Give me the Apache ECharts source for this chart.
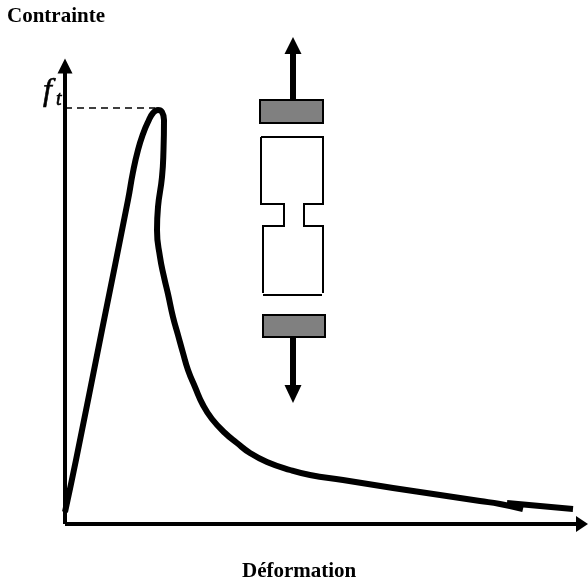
<!DOCTYPE html>
<html><head><meta charset="utf-8">
<style>html,body{margin:0;padding:0;background:#fff}#c{width:588px;height:583px}</style>
<script src="https://cdn.jsdelivr.net/npm/echarts@6/dist/echarts.min.js"></script>
</head><body><div id="c"></div>
<script>
// All values are in chart units: strain on x (0-517), stress on y (0-458)
const curveBlack = [[0,12],[11,64],[37,194],[63,324],[68,352],[73,374],[78,390],[83,402],[88,411],[93,414],[97,412],[99,404],[98.5,374],[97,347],[93,317],[92,294],[95,267],[99,247],[103,230],[108,207],[113,189],[118,171],[123,154],[130,137],[138,119],[147,105],[160,91],[172,81],[185,71],[202,62],[225,54],[245,49],[278,44],[328,36],[375,29],[415,23],[435,20],[458,15]];
const curveTail = [[442,21],[475,18],[508,15]];
const ftDash = [[0,416],[90,416]];
const specimenTop = [[196,387],[258,387],[258,320],[239,320],[239,298],[258,298],[258,231]];
const specimenLeft = [[196,387],[196,320],[219,320],[219,298],[198,298],[198,231]];
const specimenBottom = [[198,229],[257,229]];
const grips = [[195,424,258,401],[198,209,260,187]];
const arrowShaftUp = [[228,424],[228,472]];
const arrowShaftDown = [[228,187],[228,136]];
const arrowHeadUp = [[228,478.5]];
const arrowHeadDown = [[228,130]];
const yLabel = "Contrainte", xLabel = "Déformation";
const serif = '"Liberation Serif","Times New Roman",serif';
const lineS = (data, width, extra) => Object.assign({type:'line',data,symbol:'none',silent:true,clip:false,
  lineStyle:{color:'#000',width,cap:'butt',join:'miter'},z:3}, extra||{});
const chart = echarts.init(document.getElementById('c'),null,{renderer:'canvas'});
const axis = (max,size)=>({type:'value',min:0,max,splitLine:{show:false},axisTick:{show:false},axisLabel:{show:false},
  axisLine:{show:true,onZero:false,lineStyle:{color:'#000',width:4,cap:'butt'},symbol:['none','triangle'],symbolSize:size}});
const head = (data,rot,size)=>({type:'scatter',data,symbol:'triangle',symbolRotate:rot,symbolSize:size,silent:true,clip:false,itemStyle:{color:'#000',opacity:1},z:5});
const ital = (size)=>({fontFamily:serif,fontStyle:'italic',fontWeight:'normal',fontSize:size,color:'#000',textBorderColor:'#000',textBorderWidth:0.6});
chart.setOption({
  animation:false,backgroundColor:'#fff',
  grid:{left:65,right:6,top:66,bottom:59},
  xAxis:axis(517,[16,12]),yAxis:axis(458,[15,15]),
  title:[
    {text:yLabel,left:7,top:6,padding:0,textStyle:{fontFamily:serif,fontWeight:'bold',fontSize:21,color:'#000'}},
    {text:xLabel,left:242,top:561,padding:0,textStyle:{fontFamily:serif,fontWeight:'bold',fontSize:21,color:'#000'}},
    {text:'f',left:43,top:76,padding:0,textStyle:ital(32)},
    {text:'t',left:56,top:90,padding:0,textStyle:ital(20)}
  ],
  series:[
    lineS(curveBlack,6,{smooth:0.5,lineStyle:{color:'#000',width:6,cap:'butt',join:'round'}}),
    lineS(curveTail,6),
    lineS(ftDash,2,{lineStyle:{color:'#000',width:1.5,type:[7,5]}}),
    lineS(specimenTop,2),lineS(specimenLeft,2),lineS(specimenBottom,2),
    {type:'custom',data:grips,silent:true,z:4,renderItem:(p,api)=>{
      const a=api.coord([api.value(0),api.value(1)]),b=api.coord([api.value(2),api.value(3)]);
      return {type:'rect',shape:{x:a[0],y:a[1],width:b[0]-a[0],height:b[1]-a[1]},
        style:{fill:'#808080',stroke:'#000',lineWidth:2}};
    },encode:{x:[0,2],y:[1,3]}},
    lineS(arrowShaftUp,6,{z:5}),lineS(arrowShaftDown,6,{z:5}),
    head(arrowHeadUp,0,[17,17]),head(arrowHeadDown,180,[17,18])
  ]
});
</script></body></html>
